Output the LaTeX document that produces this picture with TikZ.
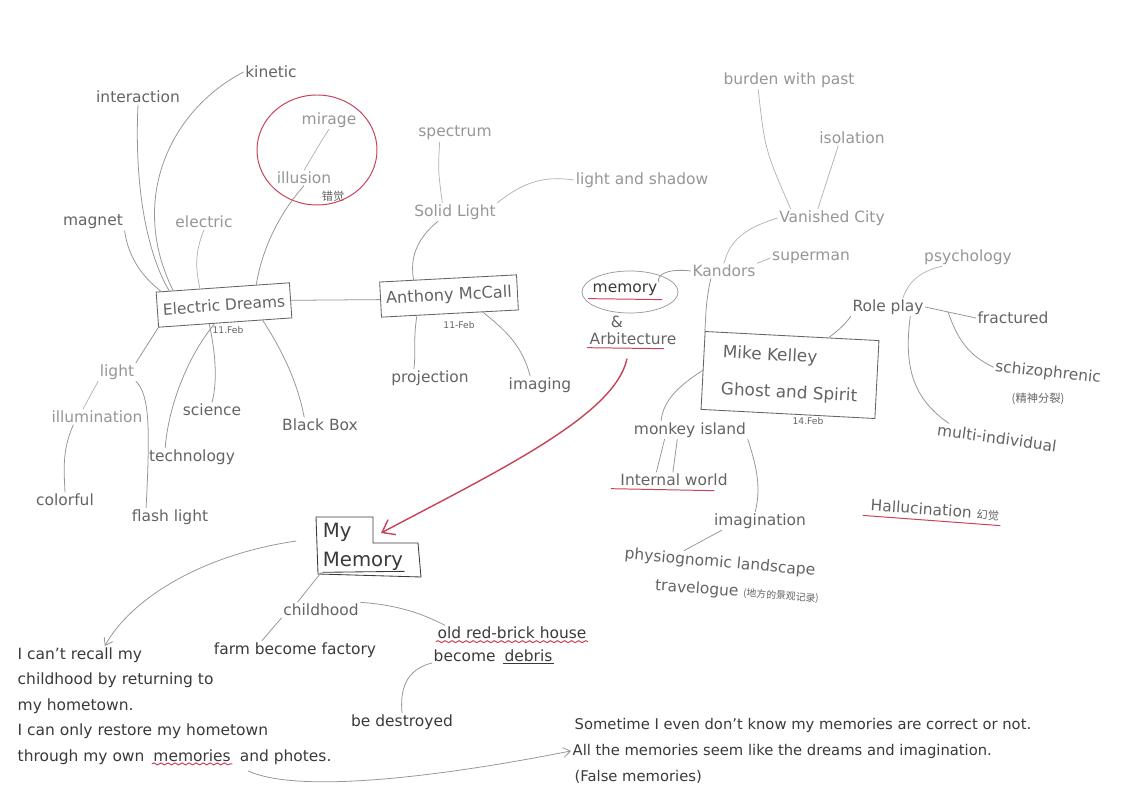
\documentclass[tikz,border=0pt]{standalone}
\usepackage{fontspec}
\setmainfont{DejaVu Sans}
\newfontfamily\cjk{Noto Sans CJK SC}
\usepackage{xcolor}
\usepackage{tikz}
\usetikzlibrary{calc}
\usetikzlibrary{positioning}
\usetikzlibrary{shapes.geometric}
\usetikzlibrary{arrows.meta}
\usetikzlibrary{decorations.pathmorphing}
\definecolor{redpen}{RGB}{200,66,88}
\definecolor{pencil}{RGB}{150,150,150}
\definecolor{lead}{RGB}{100,100,100}
\definecolor{ink}{RGB}{58,58,58}
\newcommand{\hanzi}[2][8]{{\cjk\fontsize{#1}{#1}\selectfont #2}}
\tikzstyle{jot} = [font=\fontsize{11}{13}\selectfont, text=lead, inner sep=1pt]
\tikzstyle{faintjot} = [jot, text=pencil]
\tikzstyle{inkjot} = [jot, text=ink]
\tikzstyle{datejot} = [font=\fontsize{6.5}{8}\selectfont, text=lead, inner sep=0.5pt]
\tikzstyle{topicbox} = [draw=lead, line width=0.6pt, rectangle, inner xsep=4pt,
minimum height=25pt, font=\fontsize{11}{13}\selectfont, text=lead]
\tikzstyle{ring} = [draw=pencil, line width=0.5pt, ellipse, inner sep=0pt,
minimum width=2.4cm, minimum height=1.05cm]
\tikzstyle{branch} = [draw=pencil, line width=0.55pt]
\tikzstyle{faintbranch} = [draw=pencil!75, line width=0.5pt]
\tikzstyle{redline} = [draw=redpen, line width=0.7pt]
\tikzstyle{wavy} = [redline, decorate, decoration={snake, amplitude=0.7pt, segment length=5pt}]

\begin{document}
\begin{tikzpicture}[x=0.025cm, y=-0.025cm]
\useasboundingbox[fill=white] (0,0) rectangle (1144,799);

% Electric Dreams
\node[topicbox, rotate=4] (dreams) at (224,305) {Electric Dreams};
\node[datejot] (dreamsdate) at (228,330) {11.Feb};
\node[jot] (kinetic) at (271,72) {kinetic};
\node[jot] (interaction) at (138,97) {interaction};
\node[faintjot] (mirage) at (329,120) {mirage};
\node[faintjot] (illusion) at (304,178) {illusion};
\node[jot] (illusioncn) at (333,196) {\hanzi{错觉}};
\draw[redline] (317,150) ellipse [x radius=60, y radius=55];
\node[jot] (magnet) at (93,222) {magnet};
\node[faintjot] (electric) at (204,222) {electric};
\node[faintjot] (light) at (117,372) {light};
\node[faintjot] (illumination) at (97,417) {illumination};
\node[jot] (colorful) at (65,500) {colorful};
\node[jot] (flashlight) at (170,517) {flash light};
\node[jot] (science) at (212,410) {science};
\node[jot] (technology) at (192,457) {technology};
\node[jot] (blackbox) at (320,425) {Black Box};

\draw[branch] (magnet.south east) .. controls (128,255) and (140,275) .. ($(dreams.north west)!0.04!(dreams.north east)$);
\draw[branch] (interaction.south) .. controls (134,190) and (148,255) .. ($(dreams.north west)!0.1!(dreams.north east)$);
\draw[branch] (kinetic.west) .. controls (170,110) and (128,200) .. ($(dreams.north west)!0.13!(dreams.north east)$);
\draw[faintbranch] (electric.south) .. controls (194,255) and (196,270) .. ($(dreams.north west)!0.33!(dreams.north east)$);
\draw[faintbranch] (mirage.south) .. controls (322,140) .. (illusion.north);
\draw[branch] (illusion.south) .. controls (278,215) and (262,250) .. ($(dreams.north west)!0.75!(dreams.north east)$);
\draw[branch] (dreams.south west) -- (light.north east);
\draw[faintbranch] (light.south west) -- ($(illumination.north)!0.3!(illumination.north west)$);
\draw[branch] ($(illumination.south)!0.5!(illumination.south west)$) .. controls (62,450) and (64,470) .. (colorful.north);
\draw[branch] (light.south east) .. controls (150,395) and (150,430) .. ($(flashlight.north west)!0.2!(flashlight.north east)$);
\draw[branch] ($(dreams.south west)!0.38!(dreams.south east)$) .. controls (215,350) and (218,380) .. (science.north);
\draw[branch] ($(dreams.south west)!0.42!(dreams.south east)$) .. controls (185,360) and (168,410) .. ($(technology.north west)!0.2!(technology.north east)$);
\draw[branch] ($(dreams.south west)!0.78!(dreams.south east)$) .. controls (285,355) and (298,385) .. ($(blackbox.north)!0.4!(blackbox.north west)$);

% Anthony McCall
\node[topicbox, rotate=3, font=\fontsize{11.5}{13}\selectfont] (mccall) at (449,296) {Anthony McCall};
\node[datejot] (mccalldate) at (459,325) {11-Feb};
\node[faintjot] (spectrum) at (455,133) {spectrum};
\node[faintjot] (solidlight) at (455,212) {Solid Light};
\node[faintjot] (lightshadow) at (642,180) {light and shadow};
\node[jot] (projection) at (430,378) {projection};
\node[jot] (imaging) at (540,385) {imaging};

\draw[branch] (dreams.east) -- (mccall.west);
\draw[faintbranch] ($(spectrum.south)!0.4!(spectrum.south west)$) .. controls (438,170) .. ($(solidlight.north)!0.3!(solidlight.north west)$);
\draw[faintbranch] (solidlight.north east) .. controls (520,185) and (540,175) .. (lightshadow.west);
\draw[branch] ($(solidlight.south)!0.4!(solidlight.south west)$) .. controls (415,240) and (410,260) .. ($(mccall.north west)!0.25!(mccall.north east)$);
\draw[branch] ($(mccall.south west)!0.26!(mccall.south east)$) .. controls (413,340) and (416,355) .. ($(projection.north)!0.4!(projection.north west)$);
\draw[branch] ($(mccall.south west)!0.74!(mccall.south east)$) .. controls (505,330) and (522,345) .. ($(imaging.north)!0.3!(imaging.north west)$);

% Kandors and Mike Kelley
\node[faintjot] (burden) at (789,80) {burden with past};
\node[faintjot] (isolation) at (852,138) {isolation};
\node[faintjot] (vanished) at (832,218) {Vanished City};
\node[faintjot] (superman) at (811,258) {superman};
\node[faintjot] (kandors) at (724,271) {Kandors};
\node[faintjot] (psychology) at (968,257) {psychology};
\node[ring] (memring) at (630,292) {};
\node[inkjot] (memory) at (625,290) {memory};
\node[jot] (amp) at (617,322) {\&};
\node[jot] (arbitecture) at (633,339) {Arbitecture};
\draw[redline] ($(memory.south west)+(-3,1)$) -- ($(memory.south east)+(3,2)$);
\draw[redline] ($(arbitecture.south west)+(-1,1)$) -- ($(arbitecture.south east)+(-14,2)$);

\node[topicbox, rotate=-3, align=left, minimum width=4.35cm, minimum height=1.95cm,
font=\fontsize{12}{26}\selectfont] (kelley) at (790,375) {Mike Kelley\\Ghost and Spirit};
\node[datejot] (kelleydate) at (808,421) {14.Feb};

\draw[faintbranch] ($(burden.south)!0.46!(burden.south west)$) .. controls (765,150) .. ($(vanished.north west)!0.12!(vanished.north east)$);
\draw[faintbranch] ($(isolation.south west)!0.3!(isolation.south east)$) -- ($(vanished.north west)!0.37!(vanished.north east)$);
\draw[faintbranch] (vanished.west) .. controls (745,228) and (730,240) .. (kandors.north);
\draw[faintbranch] (kandors.north east) -- (superman.west);
\draw[branch] (kandors.west) .. controls (665,268) and (656,276) .. (memory.north east);
\draw[branch] ($(kandors.south west)!0.3!(kandors.south east)$) .. controls (705,305) and (706,320) .. (kelley.north west);

\node[jot] (roleplay) at (888,307) {Role play};
\node[jot] (fractured) at (1013,318) {fractured};
\node[jot, rotate=-6] (schizo) at (1048,373) {schizophrenic};
\node[jot] (schizocn) at (1038,399) {\hanzi{(精神分裂)}};
\node[jot, rotate=-8] (multi) at (997,438) {multi-individual};

\draw[faintbranch] ($(psychology.south west)!0.22!(psychology.south east)$) .. controls (925,270) and (910,278) .. ($(roleplay.north)!0.4!(roleplay.north east)$);
\draw[branch] (roleplay.east) -- (fractured.west);
\draw[branch] ($(roleplay.east)!0.45!(fractured.west)$) .. controls (958,340) and (968,355) .. (schizo.west);
\draw[branch] ($(roleplay.south)!0.6!(roleplay.south east)$) .. controls (903,370) and (915,400) .. ($(multi.north west)!0.1!(multi.north east)$);
\draw[branch] (roleplay.south west) .. controls (845,325) and (835,333) .. ($(kelley.north west)!0.71!(kelley.north east)$);

\node[jot] (monkey) at (690,430) {monkey island};
\node[jot] (internal) at (674,480) {Internal world};
\node[jot] (imagination) at (760,521) {imagination};
\node[jot, rotate=-5] (physio) at (720,563) {physiognomic landscape};
\node[jot, rotate=-4] (travel) at (737,592) {travelogue \hanzi[7]{(地方的景观记录)}};
\node[jot, rotate=-4] (halluc) at (935,510) {Hallucination \hanzi{幻觉}};

\draw[branch] (kelley.west) .. controls (680,385) and (663,400) .. ($(monkey.north west)!0.25!(monkey.north east)$);
\draw[branch] ($(monkey.south west)!0.28!(monkey.south east)$) -- ($(internal.north west)!0.34!(internal.north east)$);
\draw[branch] ($(monkey.south west)!0.39!(monkey.south east)$) -- ($(internal.north west)!0.49!(internal.north east)$);
\draw[redline] ($(internal.south west)+(-8,1)$) -- ($(internal.south east)+(-15,3)$);
\draw[branch] (monkey.south east) .. controls (755,462) and (762,485) .. ($(imagination.north)!0.1!(imagination.north west)$);
\draw[branch] ($(imagination.south west)!0.1!(imagination.south east)$) -- ($(physio.north west)!0.31!(physio.north east)$);
\draw[redline] ($(halluc.south west)+(-6,2)$) -- ($(halluc.south east)+(0,3)$);

% My Memory
\node[inkjot, align=left, font=\fontsize{14}{20.5}\selectfont] (mymemory) at (363,547) {My\\Memory};
\draw[draw=ink, line width=0.6pt] (316,517) -- (373,517) -- (373,543) -- (418,543) -- (421,577) -- (318,574) -- cycle;
\draw[draw=ink, line width=0.6pt] ($(mymemory.south west)+(1,0)$) -- ($(mymemory.south east)+(0,-1)$);
\coordinate (memstep) at (381,533);
\draw[redline, line width=1pt, -{Straight Barb[length=8pt, width=12pt]}] ($(arbitecture.south)+(-6,12)$) .. controls (615,415) and (500,470) .. (memstep);

\node[jot] (childhood) at (321,610) {childhood};
\node[inkjot] (farm) at (295,650) {farm become factory};
\node[inkjot] (redbrick) at (512,633) {old red-brick house};
\node[inkjot, anchor=base west] (become) at (432,661) {become};
\node[inkjot, right=4pt of become.base east, anchor=base west] (debris) {debris};
\node[inkjot] (destroyed) at (402,722) {be destroyed};
\draw[wavy] ($(redbrick.south west)+(0,1)$) -- ($(redbrick.south east)+(0,1)$);
\draw[draw=ink, line width=0.6pt] ($(debris.south west)+(0,1)$) -- ($(debris.south east)+(0,1)$);

\draw[branch] (mymemory.south west) -- ($(childhood.north west)!0.2!(childhood.north east)$);
\draw[branch] (childhood.south west) -- ($(farm.north west)!0.3!(farm.north east)$);
\draw[branch] (childhood.north east) .. controls (400,605) and (425,615) .. ($(redbrick.north west)!0.06!(redbrick.north east)$);
\draw[branch] (become.south west) .. controls (405,670) and (400,690) .. (destroyed.north);

% the two notes
\node[inkjot, align=left, anchor=north west, font=\fontsize{11}{18}\selectfont] (recall) at (16,646)
{I can't recall my\\childhood by returning to\\my hometown.\\I can only restore my hometown};
\node[inkjot, anchor=base west] (through) at (16,761) {through my own};
\node[inkjot, right=4pt of through.base east, anchor=base west] (memories) {memories};
\node[inkjot, right=4pt of memories.base east, anchor=base west] (photes) {and photes.};
\draw[wavy] ($(memories.south west)+(0,1)$) -- ($(memories.south east)+(0,1)$);

\node[inkjot, anchor=base west, font=\fontsize{10.5}{12}\selectfont] (sometime) at (573,729) {Sometime I even don't know my memories are correct or not.};
\node[inkjot, anchor=base west, font=\fontsize{10.5}{12}\selectfont] (allline) at (571,755) {All the memories seem like the dreams and imagination.};
\node[inkjot, anchor=base west, font=\fontsize{10.5}{12}\selectfont] (falsemem) at (573,781) {(False memories)};

\draw[branch, -{Straight Barb[length=5pt, width=7pt]}] ($(mymemory.west)+(-25,-6)$) .. controls (200,555) and (130,600) .. ($(recall.north west)!0.35!(recall.north east)$);
\draw[branch, -{Straight Barb[length=5pt, width=7pt]}] ($(photes.south west)+(10,5)$) .. controls (300,795) and (450,775) .. (allline.west);
\end{tikzpicture}
\end{document}
